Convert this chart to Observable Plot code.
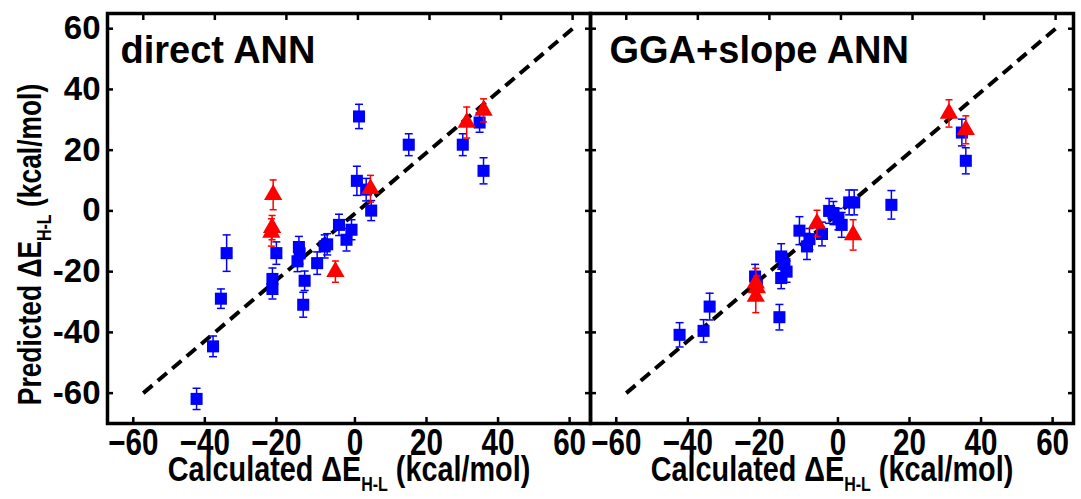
<!DOCTYPE html>
<html><head><meta charset="utf-8">
<script src="https://cdn.jsdelivr.net/npm/d3@7"></script>
<script src="https://cdn.jsdelivr.net/npm/@observablehq/plot@0.6"></script>
<style>
body{margin:0;background:#fff}
#chart svg{display:block}
</style></head><body><div id="chart"></div>
<script>
// ---- data ----
const panels = ["direct ANN", "GGA+slope ANN"];
const axisLabelX = "Calculated ΔE_{H-L} (kcal/mol)";
const axisLabelY = "Predicted ΔE_{H-L} (kcal/mol)";
const tickValues = [-60, -40, -20, 0, 20, 40, 60];
const diagonalX = [-60, 60];
const diagonalY = [-60, 60];

// direct ANN (blue squares)
const directSquareX   = [-45.1, -40.5, -38.3, -36.7, -23.9, -23.9, -22.8, -16.9, -16.5, -16.3, -14.9, -15.3, -11.4, -9.3, -8.6, -5.3, -3.2, -1.8, 0.3, -0.3, 2.3, 3.7, 14.2, 29.3, 34.0, 35.1];
const directSquareY   = [-61.9, -44.6, -28.9, -13.9, -22.4, -25.7, -13.9, -16.6, -11.9, -14.0, -23.0, -30.9, -17.2, -11.7, -11.0, -4.6, -9.5, -6.2, 31.1, 9.9, 7.0, 0.1, 21.8, 21.8, 29.1, 13.2];
const directSquareErr = [3.5, 3.4, 3.2, 6.0, 3.6, 3.3, 3.7, 3.4, 3.5, 3.5, 3.2, 4.1, 3.7, 3.8, 3.5, 3.5, 3.7, 3.3, 4.0, 4.8, 3.7, 3.3, 3.6, 3.6, 3.2, 4.3];
// direct ANN (red triangles)
const directTriangleX   = [-23.7, -24.2, -24.0, -6.3, 3.5, 30.4, 35.1];
const directTriangleY   = [5.3, -7.1, -5.5, -20.0, 7.3, 29.1, 33.1];
const directTriangleErr = [4.9, 4.5, 4.0, 3.5, 4.4, 5.1, 3.8];

// GGA+slope ANN (blue squares)
const ggaSquareX   = [-45.1, -38.4, -36.7, -24.0, -23.5, -17.2, -16.7, -16.7, -15.2, -15.8, -11.6, -9.5, -8.8, -5.3, -3.3, -2.1, -0.7, 0.2, 2.3, 3.7, 14.1, 33.8, 34.9];
const ggaSquareY   = [-40.8, -39.5, -31.5, -21.6, -24.5, -35.0, -15.0, -22.1, -20.0, -17.5, -6.5, -11.7, -9.3, -7.6, 0.0, -0.7, -2.7, -4.6, 2.8, 2.8, 2.0, 25.8, 16.5];
const ggaSquareErr = [4.0, 3.7, 4.4, 4.0, 3.5, 4.2, 4.2, 3.5, 3.5, 3.5, 4.6, 4.3, 3.5, 3.9, 4.1, 3.8, 3.5, 4.1, 4.1, 4.1, 4.7, 4.4, 4.3];
// GGA+slope ANN (red triangles)
const ggaTriangleX   = [30.2, 34.9, -6.7, 3.4, -23.8, -23.5, -23.8];
const ggaTriangleY   = [32.1, 26.7, -4.1, -7.9, -23.8, -25.4, -28.2];
const ggaTriangleErr = [4.5, 4.6, 4.3, 5.0, 4.9, 4.0, 5.3];

// ---- tables ----
const rows = (panel, X, Y, E) => X.map((x, i) => ({panel, x, y: Y[i], err: E[i]}));
const squares = [...rows(panels[0], directSquareX, directSquareY, directSquareErr),
                 ...rows(panels[1], ggaSquareX, ggaSquareY, ggaSquareErr)];
const triangles = [...rows(panels[0], directTriangleX, directTriangleY, directTriangleErr),
                   ...rows(panels[1], ggaTriangleX, ggaTriangleY, ggaTriangleErr)];
const diagonal = panels.map(panel => ({panel, x1: diagonalX[0], y1: diagonalY[0], x2: diagonalX[1], y2: diagonalY[1]}));
const panelRows = panels.map(panel => ({panel}));

const BLUE = "#0000ff", RED = "#ff0000";
const SANS = "'Liberation Sans', Arial, Helvetica, sans-serif";
const NARROW = "'Liberation Sans', Arial, Helvetica, Narrow, sans-serif"; // condensed via horizontal scale below
const NARROW_SCALE = 0.8;
const capSymbol = {draw(ctx, size) { const r = Math.sqrt(size / Math.PI); ctx.moveTo(-r, 0); ctx.lineTo(r, 0); }};

function errorMarks(data, color, capR) {
  return [
    Plot.ruleX(data, {fx: "panel", x: "x", y1: d => d.y - d.err, y2: d => d.y + d.err, stroke: color, strokeWidth: 1.5}),
    Plot.dot(data, {fx: "panel", x: "x", y: d => d.y + d.err, symbol: capSymbol, r: capR, fill: "none", stroke: color, strokeWidth: 1.5}),
    Plot.dot(data, {fx: "panel", x: "x", y: d => d.y - d.err, symbol: capSymbol, r: capR, fill: "none", stroke: color, strokeWidth: 1.5})
  ];
}

const negTicks = tickValues.filter(d => d < 0);
const posTicks = tickValues.filter(d => d >= 0);

const chart = Plot.plot({
  width: 1081, height: 499,
  marginLeft: 107, marginRight: 8, marginTop: 13, marginBottom: 76,
  style: {background: "white", fontFamily: SANS, color: "black"},
  fx: {domain: panels, padding: 0, axis: null, label: null},
  x: {domain: [-70, 65], label: null, axis: null},
  y: {domain: [-70, 65], label: null, axis: null},
  marks: [
    Plot.link(diagonal, {fx: "panel", x1: "x1", y1: "y1", x2: "x2", y2: "y2", stroke: "black", strokeWidth: 4, strokeDasharray: "12,7"}),
    ...errorMarks(squares, BLUE, 4),
    Plot.dot(squares, {fx: "panel", x: "x", y: "y", symbol: "square", r: 6.8, fill: BLUE}),
    ...errorMarks(triangles, RED, 3.5),
    Plot.dot(triangles, {fx: "panel", x: "x", y: "y", symbol: "triangle", r: 6.8, fill: RED}),
    Plot.frame({stroke: "black", strokeWidth: 3.5}),
    // bottom axis: inward ticks + labels
    Plot.axisX(negTicks, {anchor: "bottom", tickSize: -6, tickPadding: 11, strokeWidth: 2.5, fontSize: 37, fontWeight: "bold", fontFamily: NARROW, dx: -10, label: null}),
    Plot.axisX(posTicks, {anchor: "bottom", tickSize: -6, tickPadding: 11, strokeWidth: 2.5, fontSize: 37, fontWeight: "bold", fontFamily: NARROW, dx: -3, label: null}),
    // top axis: inward ticks only
    Plot.axisX(tickValues, {anchor: "top", tickSize: -6, strokeWidth: 2.5, tickFormat: () => "", label: null}),
    // left & right inward ticks in every panel
    Plot.axisY(tickValues, {anchor: "left", tickSize: -6, strokeWidth: 2.5, tickFormat: () => "", label: null, facetAnchor: null}),
    Plot.axisY(tickValues, {anchor: "right", tickSize: -6, strokeWidth: 2.5, tickFormat: () => "", label: null, facetAnchor: null}),
    // left labels
    Plot.axisY(tickValues, {anchor: "left", tickSize: 0, tickPadding: 7, fontSize: 33, fontWeight: "bold", fontFamily: SANS, tickFormat: d => String(d), label: null}),
    // panel titles
    Plot.text(panelRows, {filter: d => d.panel === panels[0], fx: "panel", text: "panel", frameAnchor: "top-left", dx: 13, dy: 49, lineAnchor: "bottom", textAnchor: "start", fontSize: 38, fontWeight: "bold", fontFamily: SANS}),
    Plot.text(panelRows, {filter: d => d.panel === panels[1], fx: "panel", text: "panel", frameAnchor: "top-left", dx: 19, dy: 49, lineAnchor: "bottom", textAnchor: "start", fontSize: 38, fontWeight: "bold", fontFamily: SANS}),
    // axis titles
    Plot.text(panelRows, {fx: "panel", text: () => axisLabelX, frameAnchor: "bottom", dy: 57, lineAnchor: "bottom", textAnchor: "middle", fontSize: 36, fontWeight: "bold", fontFamily: NARROW}),
    Plot.text(panelRows, {filter: d => d.panel === panels[0], fx: "panel", text: () => axisLabelY, frameAnchor: "left", rotate: -90, dx: -77, dy: 26, lineAnchor: "middle", textAnchor: "middle", fontSize: 33, fontWeight: "bold", fontFamily: NARROW})
  ]
});

// subscripts: turn "_{...}" into a lowered, smaller tspan
d3.select(chart).selectAll("text").each(function () {
  const t = this.textContent;
  const m = t.match(/^(.*)_\{(.*?)\}(.*)$/);
  if (!m) return;
  const el = d3.select(this);
  el.text(null);
  el.append("tspan").text(m[1]);
  el.append("tspan").attr("dy", 10).attr("font-size", 20).text(m[2]);
  el.append("tspan").attr("dy", -10).text(m[3]);
});

// condensed lettering (no narrow face installed): scale text horizontally about its anchor
d3.select(chart).selectAll("g[font-family*='Narrow'] text").each(function () {
  const tr = this.getAttribute("transform") || "";
  this.setAttribute("transform", `${tr} scale(${NARROW_SCALE},1)`);
});

document.getElementById("chart").append(chart);
</script></body></html>
